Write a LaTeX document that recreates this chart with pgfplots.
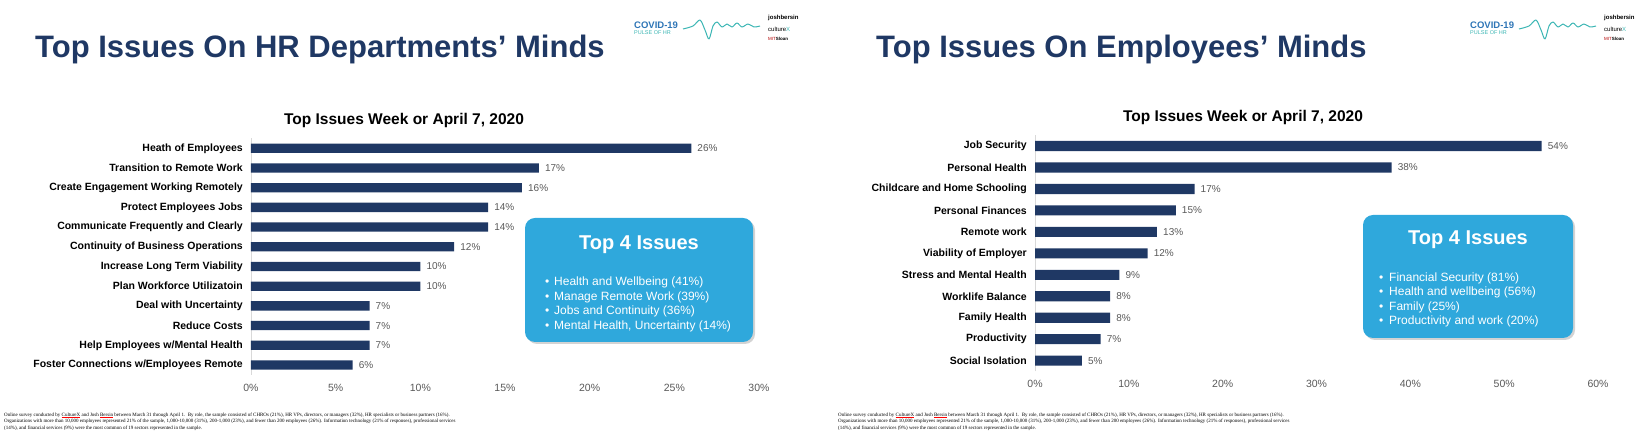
\documentclass[border=0pt]{standalone}
\usepackage{pgfplots}
\pgfplotsset{compat=1.18}
\usepackage{fontspec}
\setmainfont{Liberation Sans}
\newfontfamily\serifnote{Liberation Serif}
\usetikzlibrary{shadows}
\definecolor{navy}{HTML}{1F3864}
\definecolor{titlenavy}{HTML}{1F3864}
\definecolor{boxblue}{HTML}{2FA8DC}
\definecolor{tickgray}{HTML}{595959}
\definecolor{covidblue}{HTML}{2E75B6}
\definecolor{tealc}{HTML}{3CB6B4}
\newcommand{\fs}[1]{\fontsize{#1}{#1}\selectfont}

\pgfplotsset{
  hrbar/.style={
    xbar, scale only axis, anchor=south west,
    axis lines*=left,
    x axis line style={draw=none},
    y axis line style={draw=black!15, line width=0.8pt},
    major tick length=0pt,
    ytick=data,
    xmin=0,
    /pgf/number format/assume math mode=true,
    xticklabel={\pgfmathprintnumber{\tick}\%},
    xticklabel style={font=\fs{10.5}, text=tickgray, anchor=center, yshift=-12.7pt},
    yticklabel style={font=\bfseries\fs{10.5}, text=black, anchor=east, inner sep=0pt, xshift=-8pt},
    nodes near coords={\pgfmathprintnumber{\pgfplotspointmeta}\%},
    nodes near coords style={font=\fs{10}, text=tickgray, anchor=west, inner sep=0pt, xshift=6pt},
    point meta=x,
    clip=false,
  }
}

\newcommand{\logo}{%
  \node[anchor=west, inner sep=0pt, text=covidblue, font=\bfseries\fs{9.5}] at (634,410) {COVID-19};
  \node[anchor=west, inner sep=0pt, text=tealc, font=\fs{5.5}] at (634,402) {PULSE OF HR};
  \draw[tealc, line width=1pt, line join=round] plot[smooth, tension=0.5] coordinates {(683,406) (693,409) (700,415) (705,405) (709,396) (713,409) (717,413) (722,408) (727,411) (732,408) (737,412) (742,408) (748,411) (754,408) (760,409)};
  \node[anchor=west, inner sep=0pt, font=\bfseries\fs{6}] at (768,417) {joshbersin};
  \node[anchor=west, inner sep=0pt, font=\fs{6}] at (768,406) {culture\textcolor{tealc}{X}};
  \node[anchor=west, inner sep=0pt, font=\fs{4.5}] at (768,396) {\textcolor{red!70!black}{MIT}\textbf{Sloan}};
}

\newcommand{\redul}[1]{{\color{red}\underline{\color{black}#1}}}
\newcommand{\surveynote}{%
Online survey conducted by \redul{CultureX} and Josh \redul{Bersin} between March 31 through April 1.\enspace By role, the sample consisted of CHROs (21\%), HR VPs, directors, or managers (32\%), HR specialists or business partners (16\%).\\
Organizations with more than 10,000 employees represented 21\% of the sample, 1,000-10,000 (31\%), 200-1,000 (23\%), and fewer than 200 employees (26\%). Information technology (21\% of responses), professional services\\
(14\%), and financial services (9\%) were the most common of 19 sectors represented in the sample.}

\begin{document}
\begin{tikzpicture}[x=1pt,y=1pt]
\path[use as bounding box] (0,0) rectangle (1649,435);

% ---------- LEFT PANEL ----------
\node[anchor=base west, inner sep=0pt, text=titlenavy, font=\bfseries\fs{31}] at (35,377.5) {Top Issues On HR Departments’ Minds};
\logo
\node[anchor=base, inner sep=0pt, font=\bfseries\fs{15.5}] at (404,310) {Top Issues Week or April 7, 2020};

\begin{axis}[hrbar, at={(251pt,60.15pt)}, width=508pt, height=236.4pt,
  xmax=30, xtick={0,5,...,30}, ymin=-0.5, ymax=11.5, bar width=9.3pt,
  yticklabels={Foster Connections w/Employees Remote, Help Employees w/Mental Health, Reduce Costs, Deal with Uncertainty, Plan Workforce Utilizatoin, Increase Long Term Viability, Continuity of Business Operations, Communicate Frequently and Clearly, Protect Employees Jobs, Create Engagement Working Remotely, Transition to Remote Work, Heath of Employees}]
\addplot[fill=navy, draw=none] coordinates {(6,0) (7,1) (7,2) (7,3) (10,4) (10,5) (12,6) (14,7) (14,8) (16,9) (17,10) (26,11)};
\end{axis}

\fill[boxblue, rounded corners=10pt, drop shadow={opacity=0.35, shadow xshift=2pt, shadow yshift=-2pt}] (525,93) rectangle (753,217);
\node[anchor=center, text=white, font=\bfseries\fs{20}] at (639,190) {Top 4 Issues};
\foreach \yy/\tt in {149/{Health and Wellbeing (41\%)}, 134.5/{Manage Remote Work (39\%)}, 120/{Jobs and Continuity (36\%)}, 105.5/{Mental Health, Uncertainty (14\%)}} {
  \node[anchor=base west, inner sep=0pt, text=white, font=\fs{12}] at (545,\yy) {•};
  \node[anchor=base west, inner sep=0pt, text=white, font=\fs{12}] at (554,\yy) {\tt};
}

\node[anchor=north west, inner sep=0pt, align=left, font=\serifnote\fontsize{5}{6.7}\selectfont] at (4,22.5) {\surveynote};

% ---------- RIGHT PANEL ----------
\node[anchor=base west, inner sep=0pt, text=titlenavy, font=\bfseries\fs{31}] at (876,377.5) {Top Issues On Employees’ Minds};
\begin{scope}[xshift=836pt]
\logo
\end{scope}
\node[anchor=base, inner sep=0pt, font=\bfseries\fs{15.5}] at (1243,313) {Top Issues Week or April 7, 2020};

\begin{axis}[hrbar, at={(1035pt,63.6pt)}, width=563pt, height=236.1pt,
  xmax=60, xtick={0,10,...,60}, ymin=-0.5, ymax=10.5, bar width=10.1pt,
  yticklabels={Social Isolation, Productivity, Family Health, Worklife Balance, Stress and Mental Health, Viability of Employer, Remote work, Personal Finances, Childcare and Home Schooling, Personal Health, Job Security}]
\addplot[fill=navy, draw=none] coordinates {(5,0) (7,1) (8,2) (8,3) (9,4) (12,5) (13,6) (15,7) (17,8) (38,9) (54,10)};
\end{axis}

\fill[boxblue, rounded corners=10pt, drop shadow={opacity=0.35, shadow xshift=2pt, shadow yshift=-2pt}] (1363,97) rectangle (1573,220);
\node[anchor=center, text=white, font=\bfseries\fs{20}] at (1468,195) {Top 4 Issues};
\foreach \yy/\tt in {153.5/{Financial Security (81\%)}, 139/{Health and wellbeing (56\%)}, 124.5/{Family (25\%)}, 110/{Productivity and work (20\%)}} {
  \node[anchor=base west, inner sep=0pt, text=white, font=\fs{12}] at (1379,\yy) {•};
  \node[anchor=base west, inner sep=0pt, text=white, font=\fs{12}] at (1389,\yy) {\tt};
}

\node[anchor=north west, inner sep=0pt, align=left, font=\serifnote\fontsize{5}{6.7}\selectfont] at (838,22.5) {\surveynote};
\end{tikzpicture}
\end{document}
